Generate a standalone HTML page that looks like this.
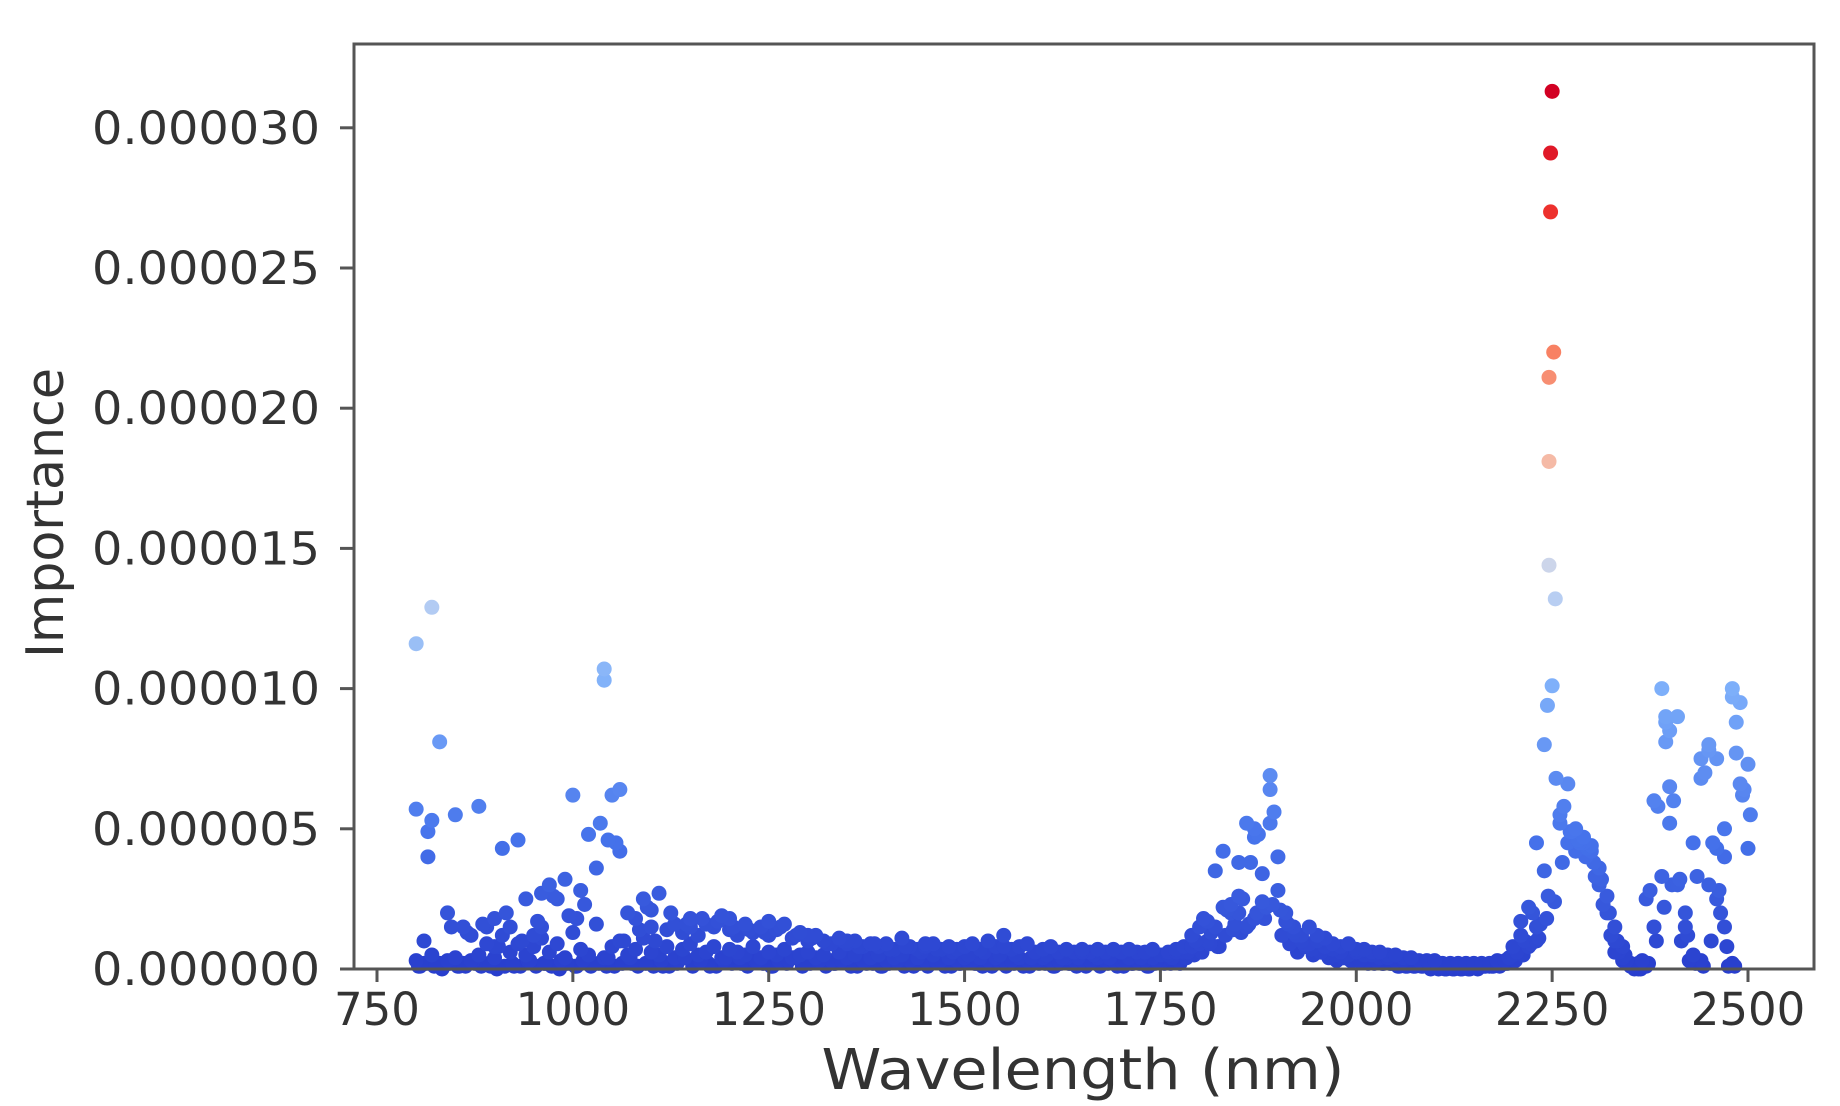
<!DOCTYPE html>
<html><head><meta charset="utf-8"><style>
html,body{margin:0;padding:0;background:#fff;width:1840px;height:1106px;overflow:hidden}
svg{display:block}
text{font-family:"DejaVu Sans","Liberation Sans",sans-serif;fill:#333}
</style></head><body>
<svg id="chart" width="1840" height="1106" viewBox="0 0 1840 1106">
<g id="marks"></g>
<rect x="354" y="44" width="1460" height="925" fill="none" stroke="#555" stroke-width="3"/>
<g id="axes"></g>
<text x="1083" y="1089" font-size="56" text-anchor="middle" textLength="523" lengthAdjust="spacingAndGlyphs">Wavelength (nm)</text>
<text transform="translate(63,513) rotate(-90)" font-size="52" text-anchor="middle" textLength="290" lengthAdjust="spacingAndGlyphs">Importance</text>
</svg>
<script>
// data (importance in units of 1e-6)
const wavelengths = [];
for (let w = 800; w <= 2500; w += 10) wavelengths.push(w);
const midWavelengths = [];
for (let w = 805; w <= 2495; w += 10) midWavelengths.push(w);
const mainVals = [5.7,1.0,12.9,8.1,2.0,5.5,1.5,1.2,5.8,1.5,1.8,4.3,1.5,4.6,2.5,1.2,2.7,3.0,2.5,3.2,6.2,2.8,4.8,3.6,10.7,6.2,6.4,2.0,1.8,2.5,1.5,2.7,1.4,1.6,1.3,1.5,1.2,1.6,1.5,1.9,1.8,1.2,1.6,1.3,1.5,1.2,1.4,1.6,1.1,1.3,1.0,1.2,1.0,0.9,1.1,0.9,1.0,0.8,0.9,0.8,0.9,0.7,1.1,0.8,0.7,0.8,0.9,0.7,0.8,0.7,0.8,0.9,0.7,1.0,0.8,1.2,0.7,0.8,0.9,0.6,0.7,0.8,0.6,0.7,0.6,0.7,0.6,0.7,0.6,0.7,0.6,0.7,0.6,0.6,0.7,0.5,0.6,0.7,0.6,0.8,0.9,1.0,1.5,2.2,2.3,2.0,5.2,4.7,2.4,6.9,2.8,1.7,1.3,1.2,1.5,1.0,1.1,0.9,0.8,0.9,0.7,0.7,0.6,0.6,0.5,0.5,0.4,0.4,0.3,0.3,0.3,0.2,0.2,0.2,0.2,0.2,0.2,0.2,0.3,0.3,0.8,1.7,2.2,4.5,8.0,31.3,5.2,4.5,4.2,4.5,4.4,3.0,2.0,1.0,0.3,0.1,0.2,2.5,6.0,10.0,6.5,3.0,1.5,4.5,6.8,8.0,2.5,5.0,10.0,6.6,4.3];
const lowVals = [0.3,0.2,0.5,0.2,0.3,0.4,0.2,0.3,0.5,0.9,0.4,1.2,0.6,0.9,0.5,0.8,1.1,0.6,0.9,0.4,1.3,0.7,0.5,1.6,0.4,0.8,1.0,0.5,0.7,1.1,0.6,
0.5,0.8,0.4,0.7,0.9,0.5,0.6,0.8,0.4,0.7,0.6,0.5,0.8,0.4,0.6,0.5,0.7,0.4,0.5,0.6,0.4,0.5,0.3,0.6,0.4,0.5,0.3,0.4,0.5,0.3,0.4,0.5,0.3,0.4,0.3,0.5,0.3,0.4,0.3,0.4,
0.3,0.4,0.3,0.4,0.3,0.3,0.4,0.3,0.3,0.4,0.3,0.3,0.4,0.3,0.3,0.3,0.4,0.3,0.3,0.3,0.4,0.3,0.3,0.4,0.3,0.5,0.6,0.8,1.2,1.5,1.7,3.5,4.2,2.0,2.6,1.5,1.8,3.4,5.2,4.0,
2.0,1.5,1.0,0.9,1.2,0.8,0.7,0.6,0.5,0.6,0.5,0.5,0.4,0.4,0.3,0.3,0.2,0.2,0.2,0.1,0.1,0.1,0.1,0.1,0.1,0.1,0.1,0.2,0.2,0.5,1.2,0.8,1.5,3.5,10.1,5.5,6.6,5.0,4.7,4.2,
3.6,2.6,1.5,0.8,0.2,0.0,0.1,1.5,3.3,8.5,9.0,2.0,0.5,0.3,3.0,7.5,1.5,0.2,9.5,7.3];
const midVals = [0.1,4.0,0.2,0.1,1.5,0.1,1.3,0.2,1.6,0.1,0.8,2.0,0.1,1.0,0.3,1.7,0.2,2.6,0.3,1.9,0.1,2.3,0.2,5.2,0.4,4.5,1.0,0.2,1.4,2.2,
1.0,0.1,2.0,0.3,1.6,0.2,1.8,0.1,1.7,0.4,1.5,0.2,1.4,0.3,1.3,0.1,1.5,0.3,1.2,0.2,1.1,0.3,0.9,0.2,1.0,0.1,0.8,0.2,0.9,0.1,0.7,0.3,0.8,0.1,0.6,0.2,0.7,0.1,0.6,0.2,
0.5,0.2,0.6,0.1,0.5,0.2,0.5,0.1,0.4,0.2,0.5,0.1,0.4,0.2,0.4,0.1,0.5,0.2,0.4,0.1,0.3,0.2,0.4,0.1,0.3,0.2,0.4,0.2,0.6,1.0,1.8,1.3,0.8,2.1,1.6,2.5,3.8,4.8,2.2,5.6,
1.2,0.9,0.6,0.8,0.5,0.6,0.4,0.3,0.4,0.3,0.3,0.2,0.3,0.2,0.2,0.1,0.1,0.1,0.1,0.0,0.0,0.0,0.0,0.0,0.0,0.0,0.1,0.1,0.2,0.4,0.6,1.0,2.0,1.6,2.6,6.8,5.8,4.9,4.5,4.3,
3.3,2.3,1.2,0.6,0.3,0.0,0.3,2.8,5.8,8.8,6.0,1.0,0.3,3.3,7.0,4.5,2.0,0.1,8.8,6.4];
const floorVals = [0.1,0.2,0.1,0.0,0.2,0.1,0.1,0.3,0.1,0.2,0.0,0.1,0.2,0.1,0.3,0.1,0.2,0.1,0.0,0.2,0.1,0.3,0.1,0.2,0.1,0.1,0.2,0.4,0.1,0.2,0.1,
0.3,0.1,0.2,0.4,0.1,0.3,0.2,0.1,0.3,0.2,0.4,0.1,0.3,0.2,0.1,0.3,0.2,0.4,0.1,0.2,0.3,0.1,0.2,0.3,0.2,0.1,0.3,0.2,0.1,0.2,0.3,0.1,0.2,0.2,0.1,0.3,0.2,0.1,0.2,0.3,
0.2,0.1,0.2,0.3,0.1,0.2,0.2,0.1,0.3,0.2,0.1,0.2,0.2,0.1,0.2,0.3,0.1,0.2,0.2,0.1,0.2,0.2,0.1,0.2,0.3,0.2,0.3,0.4,0.5,0.6,0.9,0.8,1.2,1.4,1.3,1.6,2.0,1.8,2.3,2.1,
1.6,1.2,0.9,0.7,0.6,0.5,0.5,0.4,0.3,0.3,0.3,0.2,0.2,0.2,0.1,0.1,0.1,0.1,0.1,0.1,0.0,0.0,0.0,0.0,0.1,0.1,0.1,0.1,0.2,0.3,0.5,0.9,1.1,1.8,2.4,3.8,4.9,4.6,4.0,3.8,
3.2,2.0,1.0,0.5,0.1,0.0,0.2,1.0,2.2,3.0,3.2,1.2,0.2,0.1,1.0,2.8,0.8,0.1,6.2,5.5];
const extraWl = [2248,2248,2252,2246,2246,2246,2254,2244,800,1040,1045,815,820,1005,1060,1890,2395,2395,2480,2485,2440,2450,2400,900,960,1100,1150,1200,1250,1300,1350,1450,1550,1650,1850,1870,2230,2330,2340,2460,2470];
const extraVals = [29.1,27.0,22.0,21.1,18.1,14.4,13.2,9.4,11.6,10.3,4.6,4.9,5.3,1.8,4.2,6.4,9.0,8.1,9.7,7.7,7.5,7.8,5.2,0.8,1.5,2.1,1.8,1.4,1.7,1.2,1.0,0.9,0.8,0.6,3.8,5.0,1.0,0.6,0.4,4.3,4.0];
const yTicks = ["0.000000","0.000005","0.000010","0.000015","0.000020","0.000025","0.000030"];
const xTicks = [750,1000,1250,1500,1750,2000,2250,2500];

const NS = "http://www.w3.org/2000/svg";
const xScale = w => 377 + (w - 750) * (1748 - 377) / 1750;
const yScale = v => 969 - v * 140.2 / 5;
const cmapStops = [[0,[40,62,205]],[0.15,[70,115,235]],[0.32,[125,175,250]],[0.45,[200,215,240]],[0.57,[245,190,170]],[0.7,[248,130,100]],[0.86,[238,50,45]],[1,[210,0,35]]];
function cmap(t){
  t = Math.max(0, Math.min(1, t));
  for (let i = 0; i < cmapStops.length - 1; i++) {
    const [a, ca] = cmapStops[i], [b, cb] = cmapStops[i+1];
    if (t <= b) { const f = (t - a) / (b - a); return "rgb(" + ca.map((c, k) => Math.round(c + (cb[k] - c) * f)).join(",") + ")"; }
  }
  return "rgb(210,0,35)";
}
const pts = [];
wavelengths.forEach((w, i) => { pts.push([w + 3, floorVals[i]]); pts.push([w, lowVals[i]]); pts.push([w, mainVals[i]]); });
midWavelengths.forEach((w, i) => pts.push([w, midVals[i]]));
extraWl.forEach((w, i) => pts.push([w, extraVals[i]]));
const vmax = Math.max(...pts.map(p => p[1]));
pts.sort((a, b) => a[1] - b[1]);
const marks = document.getElementById("marks");
pts.forEach(p => {
  const c = document.createElementNS(NS, "circle");
  c.setAttribute("cx", xScale(p[0]));
  c.setAttribute("cy", yScale(p[1]));
  c.setAttribute("r", 7.5);
  c.setAttribute("fill", cmap(p[1] / vmax));
  
  
  marks.appendChild(c);
});
const axes = document.getElementById("axes");
yTicks.forEach((lab, i) => {
  const y = yScale(i * 5);
  const l = document.createElementNS(NS, "line");
  l.setAttribute("x1", 340); l.setAttribute("x2", 354); l.setAttribute("y1", y); l.setAttribute("y2", y);
  l.setAttribute("stroke", "#555"); l.setAttribute("stroke-width", 3);
  
  
  axes.appendChild(l);
  const t = document.createElementNS(NS, "text");
  t.setAttribute("x", 320); t.setAttribute("y", y + 16);
  t.setAttribute("font-size", 45); t.setAttribute("text-anchor", "end");
  t.setAttribute("textLength", 228); t.setAttribute("lengthAdjust", "spacingAndGlyphs");
  t.textContent = lab;
  
  
  axes.appendChild(t);
});
xTicks.forEach(v => {
  const x = xScale(v);
  const l = document.createElementNS(NS, "line");
  l.setAttribute("x1", x); l.setAttribute("x2", x); l.setAttribute("y1", 969); l.setAttribute("y2", 982);
  l.setAttribute("stroke", "#555"); l.setAttribute("stroke-width", 3);
  
  
  axes.appendChild(l);
  const t = document.createElementNS(NS, "text");
  t.setAttribute("x", x); t.setAttribute("y", 1025);
  t.setAttribute("font-size", 45); t.setAttribute("text-anchor", "middle");
  t.textContent = v;
  
  
  axes.appendChild(t);
});
</script>
</body></html>
